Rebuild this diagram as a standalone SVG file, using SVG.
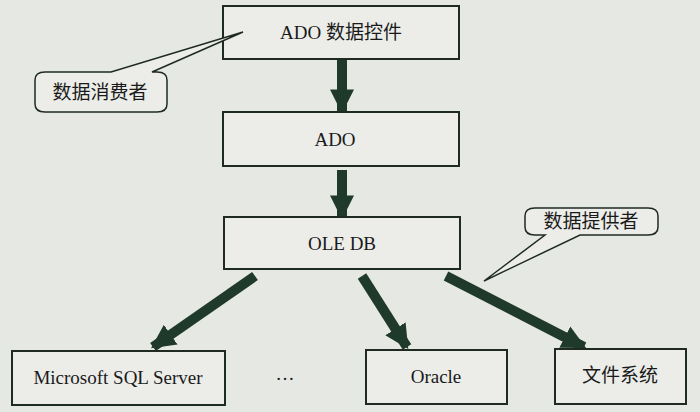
<svg xmlns="http://www.w3.org/2000/svg" width="700" height="412" viewBox="0 0 700 412">
<style>
.box{fill:#ecede9;stroke:#1e2a22;stroke-width:2}
.t{font-family:"Liberation Serif","Noto Sans CJK SC",serif;font-size:19px;fill:#1a1a1a;text-anchor:middle}
.arr{stroke:#1f3a2a;stroke-width:10;fill:none}
.call{fill:#ecede9;stroke:#1e2a22;stroke-width:1.5}
</style>
<defs>
<marker id="h" viewBox="0 0 10 10" refX="9" refY="5" markerWidth="2.4" markerHeight="3" orient="auto" markerUnits="strokeWidth">
<path d="M0,0 L10,5 L0,10 z" fill="#1f3a2a"/>
</marker>
</defs>
<rect width="700" height="412" fill="#e6e8e3"/>
<g id="connectors">
<line class="arr" x1="342" y1="59" x2="342" y2="111" marker-end="url(#h)"/>
<line class="arr" x1="342" y1="170" x2="342" y2="217" marker-end="url(#h)"/>
<line class="arr" x1="255" y1="276" x2="153" y2="347" marker-end="url(#h)"/>
<line class="arr" x1="362" y1="276" x2="407" y2="347" marker-end="url(#h)"/>
<line class="arr" x1="446" y1="276" x2="584" y2="347" marker-end="url(#h)"/>
</g>
<g id="n1"><rect class="box" x="223" y="6" width="236" height="53"/><text class="t" x="341" y="39">ADO 数据控件</text></g>
<g id="n2"><rect class="box" x="223" y="112" width="236" height="54"/><text class="t" x="335" y="146">ADO</text></g>
<g id="n3"><rect class="box" x="224" y="217" width="236" height="52"/><text class="t" x="342" y="250">OLE DB</text></g>
<g id="n4"><rect class="box" x="12" y="351" width="213" height="54"/><text class="t" x="118" y="384">Microsoft SQL Server</text></g>
<g id="n5"><rect class="box" x="366" y="350" width="141" height="54"/><text class="t" x="436" y="383">Oracle</text></g>
<g id="n6"><rect class="box" x="555" y="349" width="131" height="55"/><text class="t" x="620" y="382">文件系统</text></g>
<text class="t" x="285" y="380">…</text>
<g id="c1">
<path class="call" d="M45,72 L111,72 L243,32 L152,72 L157,72 Q167,72 167,80 L167,104 Q167,112 157,112 L45,112 Q35,112 35,104 L35,80 Q35,72 45,72 Z"/>
<text class="t" x="100" y="99">数据消费者</text>
</g>
<g id="c2">
<path class="call" d="M535,208 L648,208 Q658,208 658,216 L658,227 Q658,235 648,235 L580,235 L484,281 L545,235 L535,235 Q525,235 525,227 L525,216 Q525,208 535,208 Z"/>
<text class="t" x="591" y="228">数据提供者</text>
</g>
</svg>
